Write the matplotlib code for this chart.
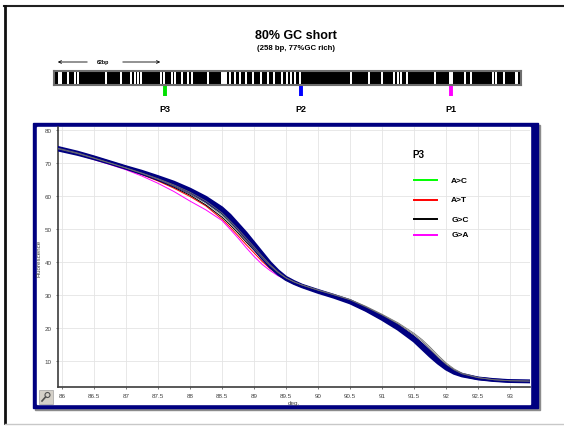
import numpy as np
import matplotlib
matplotlib.use('Agg')
import matplotlib.pyplot as plt
from matplotlib.patches import Rectangle, Circle
from matplotlib.lines import Line2D

plt.rcParams['font.family'] = ['Liberation Sans', 'DejaVu Sans']

# Melt curve temperatures (deg) and fluorescence traces
temps = [85.95, 86.25, 86.5, 86.75, 87.0, 87.25, 87.5, 87.75, 88.0, 88.25,
         88.5, 88.625, 88.75, 88.875, 89.0, 89.125, 89.25, 89.375, 89.5, 89.625,
         89.75, 90.0, 90.25, 90.5, 90.75, 91.0, 91.25, 91.5, 91.625, 91.75,
         91.875, 92.0, 92.125, 92.25, 92.5, 92.75, 93.0, 93.3]

# wild type replicates (navy band)
wt_1 = [74.4, 73.0, 71.7, 70.2, 68.7, 67.2, 65.6, 63.8, 61.7, 59.1,
        55.8, 53.6, 50.8, 48.0, 45.0, 42.0, 39.2, 36.8, 35.0, 33.7,
        32.7, 31.1, 29.6, 27.9, 25.6, 23.0, 20.1, 16.5, 14.3, 12.0,
        9.8, 7.9, 6.5, 5.6, 4.6, 4.1, 3.8, 3.7]
wt_2 = [74.0, 72.7, 71.4, 70.0, 68.5, 66.9, 65.2, 63.3, 61.1, 58.4,
        55.1, 52.8, 50.1, 47.2, 44.2, 41.3, 38.6, 36.4, 34.7, 33.5,
        32.5, 30.8, 29.3, 27.6, 25.3, 22.6, 19.6, 16.0, 13.7, 11.4,
        9.3, 7.5, 6.2, 5.4, 4.5, 4.0, 3.7, 3.6]
wt_3 = [74.7, 73.3, 71.9, 70.4, 68.9, 67.5, 65.9, 64.2, 62.1, 59.6,
        56.4, 54.2, 51.5, 48.8, 45.8, 42.8, 39.8, 37.3, 35.3, 34.0,
        32.9, 31.3, 29.8, 28.2, 25.9, 23.4, 20.6, 17.0, 14.9, 12.6,
        10.3, 8.3, 6.8, 5.8, 4.7, 4.2, 3.9, 3.8]

# P3 variants
p3_ac = [74.8, 73.2, 71.6, 70.0, 68.5, 66.9, 65.2, 63.3, 61.0, 58.2,
         54.6, 52.3, 49.7, 47.0, 44.3, 41.5, 39.0, 36.7, 35.0, 33.8,
         32.8, 31.2, 29.8, 28.2, 25.9, 23.3, 20.5, 16.9, 14.7, 12.4,
         10.1, 8.1, 6.6, 5.7, 4.6, 4.1, 3.8, 3.7]
p3_at = [74.3, 72.8, 71.3, 69.8, 68.2, 66.5, 64.6, 62.4, 59.9, 57.0,
         53.0, 50.6, 48.0, 45.3, 42.8, 40.2, 38.0, 36.2, 34.8, 33.6,
         32.7, 31.0, 29.5, 27.9, 25.5, 22.9, 20.0, 16.5, 14.3, 12.1,
         9.8, 7.9, 6.5, 5.6, 4.6, 4.1, 3.8, 3.7]
p3_gc = [74.2, 72.8, 71.4, 69.9, 68.3, 66.7, 64.8, 62.7, 60.3, 57.3,
         53.6, 51.3, 48.8, 46.1, 43.6, 40.9, 38.6, 36.6, 35.0, 33.8,
         32.9, 31.3, 29.9, 28.3, 26.1, 23.6, 20.9, 17.4, 15.3, 13.0,
         10.6, 8.5, 7.0, 5.9, 4.7, 4.1, 3.8, 3.7]
p3_ga = [74.1, 72.6, 71.1, 69.6, 68.0, 66.1, 63.9, 61.4, 58.5, 55.8,
         52.6, 50.0, 47.3, 44.4, 41.7, 39.3, 37.4, 35.8, 34.6, 33.4,
         32.5, 30.8, 29.2, 27.5, 25.1, 22.5, 19.6, 16.0, 13.8, 11.6,
         9.5, 7.7, 6.4, 5.5, 4.5, 4.0, 3.7, 3.6]
grey_1 = [74.3, 72.9, 71.5, 70.0, 68.5, 66.9, 65.1, 63.1, 60.8, 57.9,
          54.2, 51.8, 49.3, 46.6, 44.0, 41.3, 38.9, 36.8, 35.1, 33.9,
          33.0, 31.4, 30.0, 28.5, 26.3, 23.9, 21.2, 17.9, 15.9, 13.6,
          11.1, 8.9, 7.2, 6.0, 4.8, 4.2, 3.9, 3.8]
grey_2 = [74.5, 73.1, 71.6, 70.1, 68.6, 67.0, 65.3, 63.4, 61.2, 58.5,
          54.9, 52.5, 50.0, 47.3, 44.6, 41.8, 39.2, 37.0, 35.2, 34.0,
          33.0, 31.5, 30.1, 28.6, 26.5, 24.1, 21.5, 18.3, 16.4, 14.1,
          11.6, 9.3, 7.5, 6.2, 4.9, 4.2, 3.9, 3.8]

variant_labels = ['A>C', 'A>T', 'G>C', 'G>A']
variant_colors = ['#00ff00', '#ff0000', '#000000', '#ff00ff']

# amplicon map (bp): A/T positions shown as white stripes
amp_len = 258
stripe_bp = [2.6, 4.1, 8.0, 11.6, 13.0, 29.0, 37.0, 42.5, 44.5, 46.4,
             48.1, 59.1, 61.0, 65.2, 67.1, 70.7, 73.8, 76.2, 85.1, 94.0,
             97.2, 100.0, 102.8, 105.8, 109.9, 114.4, 118.2, 121.5, 125.7, 128.5,
             130.9, 133.2, 135.7, 164.3, 174.0, 181.2, 187.9, 189.8, 191.9, 195.2,
             210.3, 218.6, 220.1, 227.3, 230.2, 242.5, 244.0, 248.6, 255.6]
stripe_w = [1.1, 1.1, 1.1, 1.1, 1.1, 1.1, 1.1, 1.1, 1.1, 1.1,
            1.1, 1.1, 1.1, 1.1, 1.1, 1.1, 1.1, 1.1, 1.1, 3.3,
            1.1, 1.1, 1.1, 1.1, 1.1, 1.1, 1.1, 1.1, 1.1, 1.1,
            1.1, 1.1, 1.1, 1.1, 1.1, 1.6, 1.1, 1.1, 1.1, 1.1,
            1.1, 1.1, 1.1, 1.1, 1.1, 1.1, 1.1, 1.1, 1.6]
probe_names = ['P3', 'P2', 'P1']
probe_bp = [61.3, 136.5, 219.3]
probe_colors = ['#00e000', '#0000ff', '#ff00ff']

fig = plt.figure(figsize=(5.64, 4.27), dpi=100)

# background layer in pixel units
bg = fig.add_axes([0, 0, 1, 1])
bg.set_xlim(0, 564) ; bg.set_ylim(427, 0) ; bg.axis('off')
bg.plot([4, 564], [7, 7], color='#202020', lw=1.5)
bg.plot([5, 5], [7, 424], color='#101010', lw=2)
bg.plot([5, 564], [424.5, 424.5], color='#c8c8c8', lw=1)
bg.add_patch(Rectangle((35, 126), 505, 285, color='#8c8c8c'))
bg.add_patch(Rectangle((33, 124), 505, 285, color='#000080'))
bg.add_patch(Rectangle((36.5, 128), 493.5, 277, color='white'))
bg.add_patch(Rectangle((39, 391), 14, 14, facecolor='#d4d0c8', edgecolor='#a0a0a0', lw=0.5))
bg.add_patch(Circle((47.5, 396), 2.5, fill=False, edgecolor='#505050', lw=0.8))
bg.plot([45.5, 42], [398, 402], color='#505050', lw=1.2)

bg.text(296, 36, '80% GC short', ha='center', va='center', fontsize=9, fontweight='bold')
bg.text(296, 49, '(258 bp, 77%GC rich)', ha='center', va='center', fontsize=5.6, fontweight='bold')
bg.text(103, 62.5, '62bp', ha='center', va='center', fontsize=3.8, fontweight='bold')
bg.annotate('', xy=(55, 63), xytext=(90, 63),
            arrowprops=dict(arrowstyle='->', lw=0.6, mutation_scale=5))
bg.annotate('', xy=(163, 63), xytext=(120, 63),
            arrowprops=dict(arrowstyle='->', lw=0.6, mutation_scale=5))

# amplicon bar
axm = fig.add_axes([54/564, 1-86/427, 467/564, 14/427])
axm.set_facecolor('black')
axm.set_xlim(0, amp_len) ; axm.set_ylim(0, 1)
axm.bar(stripe_bp, 1, width=stripe_w, color='white', align='center')
axm.set_xticks([]) ; axm.set_yticks([])
for s in axm.spines.values():
    s.set_color('#6e6e6e') ; s.set_linewidth(1.5)
trm = axm.get_xaxis_transform()
for name, pos, col in zip(probe_names, probe_bp, probe_colors):
    axm.plot([pos, pos], [-0.08, -0.8], color=col, lw=2.8, transform=trm,
             clip_on=False, solid_capstyle='butt')
    axm.text(pos, -1.65, name, ha='center', va='center', fontsize=6.5,
             fontweight='bold', transform=trm)

# melt curves
ax = fig.add_axes([58/564, 1-388/427, 472/564, 260/427])
ax.set_xlim(85.94, 93.31) ; ax.set_ylim(2, 81)
ax.set_xticks(np.arange(86, 93.01, 0.5))
ax.set_xticklabels(['86', '86.5', '87', '87.5', '88', '88.5', '89', '89.5',
                    '90', '90.5', '91', '91.5', '92', '92.5', '93'])
ax.set_yticks(np.arange(10, 81, 10))
ax.grid(True, color='#e4e4e4', lw=0.6)
ax.set_axisbelow(True)
ax.tick_params(labelsize=4.5, colors='#404040', length=1.5, width=0.5, pad=3)
for sp in ['top', 'right']:
    ax.spines[sp].set_visible(False)
for sp in ['left', 'bottom']:
    ax.spines[sp].set_color('#3c3c3c') ; ax.spines[sp].set_linewidth(1.2)
ax.set_ylabel('Fluorescence', fontsize=4.5, color='#404040', labelpad=2)
ax.set_xlabel('deg.', fontsize=4.5, color='#404040', labelpad=1.5)

for yy, col in zip([p3_ac, p3_at, p3_gc, p3_ga], variant_colors):
    ax.plot(temps, yy, color=col, lw=0.7, zorder=2)
for yy in [wt_1, wt_2, wt_3]:
    ax.plot(temps, yy, color='#000080', lw=2.3, zorder=3, solid_joinstyle='round')
for yy in [grey_1, grey_2]:
    ax.plot(temps, yy, color='#707070', lw=0.6, zorder=4)

# legend drawn by hand, as in the original figure
ax.text(0.763, 0.896, 'P3', transform=ax.transAxes, ha='center', va='center',
        fontsize=7, fontweight='bold')
for yy, lab, col in zip([0.796, 0.721, 0.646, 0.586], variant_labels, variant_colors):
    ax.add_line(Line2D([0.754, 0.803], [yy, yy], color=col, lw=1.4,
                       transform=ax.transAxes))
    ax.text(0.833, yy, lab, transform=ax.transAxes, ha='left', va='center',
            fontsize=6, fontweight='bold')

fig.savefig('out.png', dpi=100)
